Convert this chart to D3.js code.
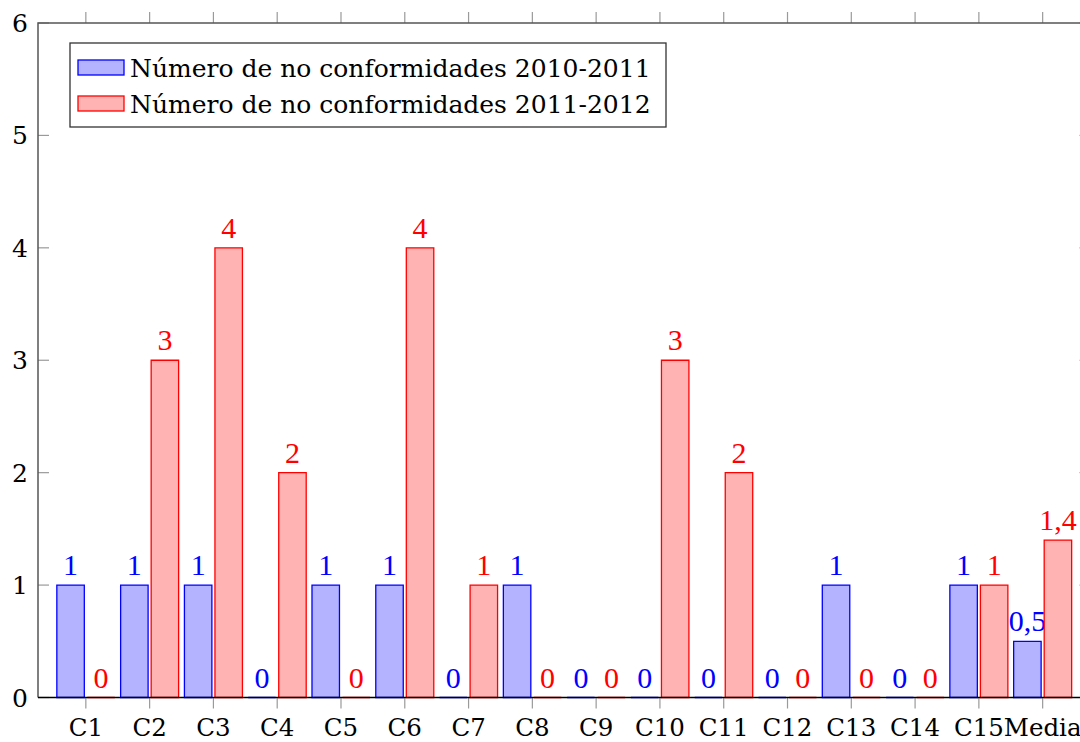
<!DOCTYPE html>
<html>
<head>
  <meta charset="utf-8">
  <title>No conformidades</title>
  <script src="https://d3js.org/d3.v7.min.js"></script>
  <style>
    body { margin: 0; background: #fff; }
  </style>
</head>
<body>
  <div id="chart"></div>
  <script>
const categories = ["C1", "C2", "C3", "C4", "C5", "C6", "C7", "C8", "C9", "C10", "C11", "C12", "C13", "C14", "C15", "Media"];
const serie1 = [1, 1, 1, 0, 1, 1, 0, 1, 0, 0, 0, 0, 1, 0, 1, 0.5];
const serie2 = [0, 3, 4, 2, 0, 4, 1, 0, 0, 3, 2, 0, 0, 0, 1, 1.4];
const seriesNames = ["Número de no conformidades 2010-2011", "Número de no conformidades 2011-2012"];
const yTicks = [0, 1, 2, 3, 4, 5, 6];

const width = 1080, height = 742;
const box = { left: 38, right: 1090.5, top: 23, bottom: 697.5 };
const styles = [
  { fill: "#b3b3ff", stroke: "#0000ff" },
  { fill: "#ffb3b3", stroke: "#ff0000" }
];
const tickFont = "DejaVu Serif";
const valueFont = "Liberation Serif";

const svg = d3.select("#chart").append("svg")
  .attr("width", width)
  .attr("height", height);

// scales
const x = d3.scalePoint()
  .domain(categories)
  .range([box.left, box.right])
  .padding(0.75);

const xs = d3.scaleBand()
  .domain([0, 1])
  .range([-29, 29])
  .paddingInner(0.1);

const y = d3.scaleLinear()
  .domain([0, 6])
  .range([box.bottom, box.top]);

// ticks on all four sides
const tickColor = "#9a9a9a";
svg.append("g").selectAll("line.xb")
  .data(categories).join("line")
  .attr("x1", d => x(d)).attr("x2", d => x(d))
  .attr("y1", box.bottom).attr("y2", box.bottom + 11)
  .attr("stroke", tickColor).attr("stroke-width", 1.2);
svg.append("g").selectAll("line.xt")
  .data(categories).join("line")
  .attr("x1", d => x(d)).attr("x2", d => x(d))
  .attr("y1", box.top).attr("y2", box.top - 11)
  .attr("stroke", tickColor).attr("stroke-width", 1.2);
svg.append("g").selectAll("line.yl")
  .data(yTicks).join("line")
  .attr("x1", box.left).attr("x2", box.left + 11)
  .attr("y1", d => y(d)).attr("y2", d => y(d))
  .attr("stroke", tickColor).attr("stroke-width", 1.2);
svg.append("g").selectAll("line.yr")
  .data(yTicks).join("line")
  .attr("x1", box.right).attr("x2", box.right - 11)
  .attr("y1", d => y(d)).attr("y2", d => y(d))
  .attr("stroke", tickColor).attr("stroke-width", 1.2);

// tick labels
svg.append("g").selectAll("text")
  .data(yTicks).join("text")
  .attr("x", 28)
  .attr("y", d => y(d) + 9)
  .attr("text-anchor", "end")
  .attr("font-family", tickFont)
  .attr("font-size", 25)
  .text(d => d);

svg.append("g").selectAll("text")
  .data(categories).join("text")
  .attr("x", d => x(d))
  .attr("y", 736)
  .attr("text-anchor", "middle")
  .attr("font-family", tickFont)
  .attr("font-size", 24.5)
  .text(d => d);

// bars
const series = [serie1, serie2];
series.forEach((vals, s) => {
  const g = svg.append("g");
  const bw = xs.bandwidth();
  g.selectAll("path")
    .data(vals).join("path")
    .attr("d", (v, i) => {
      const x0 = x(categories[i]) + xs(s);
      const y0 = y(0), y1 = y(v);
      return `M${x0},${y0}V${y1}H${x0 + bw}V${y0}Z`;
    })
    .attr("fill", styles[s].fill)
    .attr("stroke", styles[s].stroke)
    .attr("stroke-width", 1.3);

  g.selectAll("text")
    .data(vals).join("text")
    .attr("x", (v, i) => x(categories[i]) + xs(s) + bw / 2)
    .attr("y", v => y(v) - 10)
    .attr("text-anchor", "middle")
    .attr("font-family", valueFont)
    .attr("font-size", 30)
    .attr("fill", styles[s].stroke)
    .text(v => String(v).replace(".", ","));
});

// axis frame
svg.append("path")
  .attr("d", `M${box.left},${box.bottom}V${box.top}H${box.right}V${box.bottom}`)
  .attr("fill", "none")
  .attr("stroke", "#555")
  .attr("stroke-width", 1.5);
svg.append("line")
  .attr("x1", box.left).attr("x2", box.right)
  .attr("y1", box.bottom).attr("y2", box.bottom)
  .attr("stroke", "#000").attr("stroke-width", 1.6);

// legend
const legend = svg.append("g");
legend.append("rect")
  .attr("x", 70).attr("y", 43)
  .attr("width", 596).attr("height", 84)
  .attr("fill", "#fff")
  .attr("stroke", "#333").attr("stroke-width", 1.3);
seriesNames.forEach((name, s) => {
  legend.append("rect")
    .attr("x", 78).attr("y", 60 + s * 36)
    .attr("width", 46).attr("height", 15)
    .attr("fill", styles[s].fill)
    .attr("stroke", styles[s].stroke).attr("stroke-width", 1.3);
  legend.append("text")
    .attr("x", 130).attr("y", 77 + s * 36)
    .attr("font-family", tickFont)
    .attr("font-size", 25)
    .text(name);
});
  </script>
</body>
</html>
